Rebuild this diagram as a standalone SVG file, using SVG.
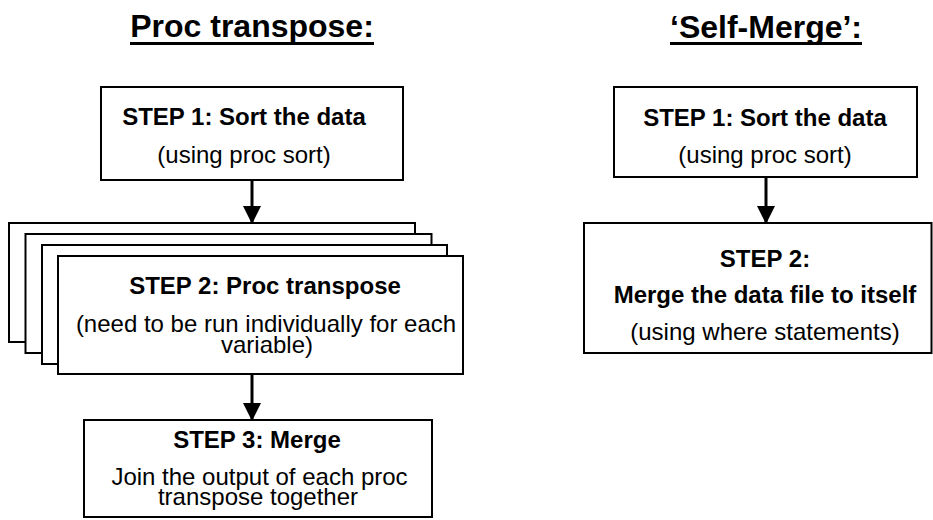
<svg xmlns="http://www.w3.org/2000/svg" width="933" height="520" viewBox="0 0 933 520">
<style>
.box{fill:#fff;stroke:#000;stroke-width:2}
.t{font-family:"Liberation Sans",Arial,sans-serif;font-size:24px;fill:#000;text-anchor:middle}
.b{font-weight:bold}
.title{font-family:"Liberation Sans",Arial,sans-serif;font-size:32px;font-weight:bold;fill:#000;text-anchor:middle}
.ul{stroke:#000;stroke-width:3}
.conn{stroke:#000;stroke-width:3;fill:none}
</style>
<defs>
<marker id="ah" markerUnits="userSpaceOnUse" markerWidth="18" markerHeight="19" refX="17" refY="9" orient="auto" viewBox="0 0 18 18">
<path d="M0,0 L18,9 L0,18 Z" fill="#000"/>
</marker>
</defs>
<rect width="933" height="520" fill="#fff"/>
<g id="title-left">
<text class="title" x="252" y="37">Proc transpose:</text>
<line class="ul" x1="130" y1="43.5" x2="374" y2="43.5"/>
</g>
<g id="title-right">
<text class="title" x="766" y="38">‘Self-Merge’:</text>
<line class="ul" x1="670" y1="43.5" x2="862" y2="43.5"/>
</g>
<g id="L1">
<rect class="box" x="101" y="87" width="302" height="93"/>
<text class="t b" x="244" y="125">STEP 1: Sort the data</text>
<text class="t" x="244" y="163">(using proc sort)</text>
</g>
<g id="L2">
<rect class="box" x="9" y="223" width="406" height="119"/>
<rect class="box" x="25.5" y="234" width="406" height="119"/>
<rect class="box" x="42" y="245" width="405" height="119"/>
<rect class="box" x="58" y="256" width="405" height="118"/>
<text class="t b" x="265" y="294">STEP 2: Proc transpose</text>
<text class="t" x="266" y="332">(need to be run individually for each</text>
<text class="t" x="267" y="353">variable)</text>
</g>
<g id="L3">
<rect class="box" x="84" y="420" width="348" height="97"/>
<text class="t b" x="257" y="448">STEP 3: Merge</text>
<text class="t" x="259.5" y="485">Join the output of each proc</text>
<text class="t" x="258" y="505">transpose together</text>
</g>
<g id="R1">
<rect class="box" x="614" y="87" width="303" height="90"/>
<text class="t b" x="765" y="126">STEP 1: Sort the data</text>
<text class="t" x="765" y="163">(using proc sort)</text>
</g>
<g id="R2">
<rect class="box" x="584" y="223" width="347.5" height="130"/>
<text class="t b" x="765" y="267">STEP 2:</text>
<text class="t b" x="765" y="303">Merge the data file to itself</text>
<text class="t" x="765" y="340">(using where statements)</text>
</g>
<g id="connectors">
<line class="conn" x1="252" y1="180" x2="252" y2="223" marker-end="url(#ah)"/>
<line class="conn" x1="252" y1="374" x2="252" y2="420" marker-end="url(#ah)"/>
<line class="conn" x1="766" y1="177" x2="766" y2="223" marker-end="url(#ah)"/>
</g>
</svg>
